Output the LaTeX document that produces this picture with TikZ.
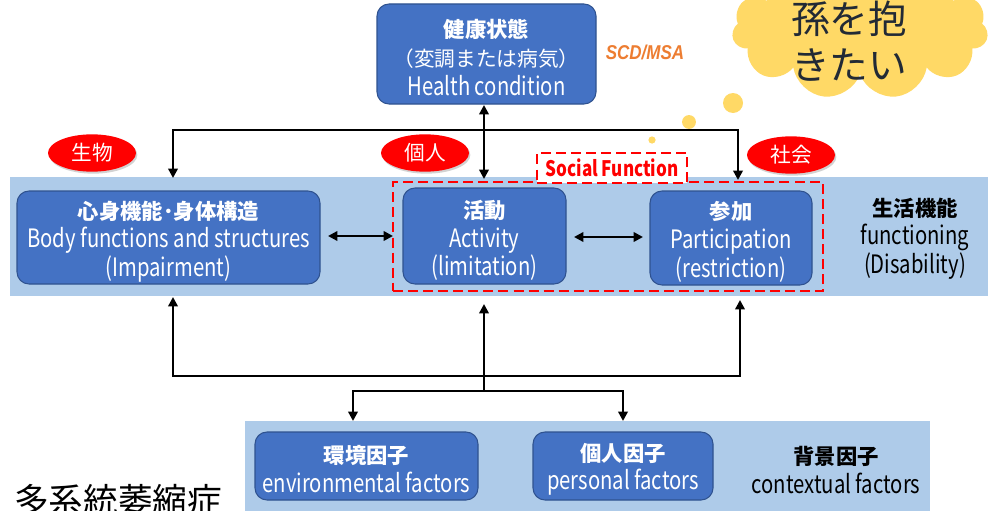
\documentclass[tikz,border=0pt]{standalone}
\usepackage{fontspec}
\setmainfont{Noto Sans CJK JP}
\newfontfamily\jp{Noto Sans CJK JP}
\newfontfamily\jpn[FakeStretch=0.8]{Noto Sans CJK JP}
\newfontfamily\lsans[FakeStretch=0.85]{Liberation Sans}
\usetikzlibrary{arrows.meta,shapes.symbols,shapes.geometric,shadows}
\definecolor{boxblue}{RGB}{68,114,196}
\definecolor{boxedge}{RGB}{47,82,143}
\definecolor{bandblue}{RGB}{174,203,233}
\definecolor{cloudy}{RGB}{255,217,102}
\definecolor{cloudtext}{RGB}{34,42,53}
\definecolor{scdorange}{RGB}{237,125,49}
\newcommand{\jl}[1]{{\jp\bfseries\fontsize{16}{21.5}\selectfont #1}}
\newcommand{\el}[1]{{\jpn\fontsize{19}{21.5}\selectfont #1}}
\begin{document}
\begin{tikzpicture}[x=0.75pt,y=-0.75pt,
  bluebox/.style={draw=boxedge, line width=0.8pt, fill=boxblue, rounded corners=9pt, inner sep=0pt},
  boxtext/.style={text=white, align=center, inner sep=0pt, font=\fontsize{15}{21.5}\selectfont},
  plainlab/.style={text=black, align=center, inner sep=0pt, font=\fontsize{15}{21.5}\selectfont},
  redoval/.style={ellipse, fill=red, text=white, minimum width=66pt, minimum height=28pt,
    inner sep=0pt, font=\jp\fontsize{15.5}{18}\selectfont,
    drop shadow={opacity=0.35, shadow xshift=1pt, shadow yshift=-1.5pt}},
  conn/.style={line width=1.9pt},
  arr/.style={conn, -{Triangle[length=7pt,width=7pt]}},
  dbl/.style={conn, {Triangle[length=7pt,width=7pt]}-{Triangle[length=7pt,width=7pt]}},
  reddash/.style={draw=red, line width=2.2pt, dash pattern=on 7.5pt off 3.8pt},
  bubble/.style={fill=cloudy}
]
\useasboundingbox (0,0) rectangle (995,510);
\fill[white] (0,0) rectangle (995,510);
\clip (0,0) rectangle (995,510);

% thought cloud
\fill[bubble] (733,103) circle[radius=7.5pt];
\fill[bubble] (689,122) circle[radius=5.2pt];
\fill[bubble] (652,140) circle[radius=2.7pt];
\node[cloud, cloud puffs=11, cloud ignores aspect, fill=cloudy, minimum width=192pt,
  minimum height=104pt, inner sep=0pt] (cloud) at (860,30) {};
\node[text=cloudtext, align=left, inner sep=0pt, font=\jp\fontsize{29}{34.5}\selectfont]
  (wish) at (849,41) {孫を抱\\きたい};

% bands
\fill[bandblue] (10,177) rectangle (988,296);
\fill[bandblue] (245,421) rectangle (930,515);

% health condition
\node[bluebox, minimum width=164.25pt, minimum height=75pt] (health) at (486.5,54) {};
\node[boxtext] (healthT) at ([yshift=-2.5pt]health.center)
  {\jl{健康状態}\\{\jp\fontsize{15.5}{21.5}\selectfont （変調または病気）}\\\el{Health condition}};
\node[text=scdorange, inner sep=0pt, font=\lsans\bfseries\itshape\fontsize{15}{16}\selectfont]
  (scd) at (645,52) {SCD/MSA};

% functioning boxes
\node[bluebox, minimum width=227.25pt, minimum height=69.75pt] (body) at (168.5,237.5) {};
\node[boxtext] (bodyT) at ([yshift=-3pt]body.center)
  {\jl{心身機能･身体構造}\\\el{Body functions and structures}\\\el{(Impairment)}};
\node[bluebox, minimum width=122.25pt, minimum height=72pt] (act) at (484.5,236) {};
\node[boxtext] (actT) at ([yshift=-3.3pt]act.center)
  {\jl{活動}\\\el{Activity}\\\el{(limitation)}};
\node[bluebox, minimum width=121.5pt, minimum height=70.5pt] (part) at (731,238) {};
\node[boxtext] (partT) at ([yshift=-3pt]part.center)
  {\jl{参加}\\\el{Participation}\\\el{(restriction)}};
\node[plainlab] (func) at (915,238.5)
  {\jl{生活機能}\\\el{functioning}\\\el{(Disability)}};

% social function frame
\node[reddash, minimum width=322.5pt, minimum height=81.75pt, inner sep=0pt] (sframe) at (608,236.5) {};
\node[reddash, fill=white, minimum width=112.5pt, minimum height=22.5pt, inner sep=0pt,
  text=red, font=\jpn\bfseries\fontsize{16}{17}\selectfont] (social) at (612,168) {Social Function};

% red ovals
\node[redoval] (bio) at (92,153) {生物};
\node[redoval] (indiv) at (425,153) {個人};
\node[redoval] (soc) at (791,155) {社会};

% contextual factors
\node[bluebox, minimum width=167.25pt, minimum height=51pt] (env) at (366.5,466) {};
\node[boxtext] (envT) at ([yshift=-2.5pt]env.center)
  {\jl{環境因子}\\\el{environmental factors}};
\node[bluebox, minimum width=135pt, minimum height=51pt] (pers) at (623,466) {};
\node[boxtext] (persT) at ([yshift=-2.5pt]pers.center)
  {\jl{個人因子}\\\el{personal factors}};
\node[plainlab] (ctx) at (836,470)
  {\jl{背景因子}\\\el{contextual factors}};

% bottom-left caption
\node[anchor=base west, inner sep=0pt, text=black, font=\jp\fontsize{26}{30}\selectfont]
  (msa) at (14,513) {多系統萎縮症};

% connector coordinates
\coordinate (tl) at (173,130);
\coordinate (tr) at (738,130);
\coordinate (bodyTop) at (173,178);
\coordinate (partTop) at (738,180);
\coordinate (hs) at (484,105);
\coordinate (actTop) at (484,179);
\coordinate (bodyR) at (328,236);
\coordinate (frameL) at (393,236);
\coordinate (actR) at (574,237);
\coordinate (partL) at (643,237);
\coordinate (bl) at (173,376);
\coordinate (br) at (740,376);
\coordinate (bodyBot) at (173,297);
\coordinate (partBot) at (740,300);
\coordinate (jn) at (484,391);
\coordinate (actBot) at (484,304);
\coordinate (jl) at (353,391);
\coordinate (jr) at (623,391);
\coordinate (envTop) at (353,421);
\coordinate (persTop) at (623,421);

% top connectors
\draw[dbl] (bodyTop) -- (tl) -- (tr) -- (partTop);
\draw[dbl] (hs) -- (actTop);
% horizontal double arrows
\draw[dbl] (bodyR) -- (frameL);
\draw[dbl] (actR) -- (partL);
% bottom connectors
\draw[dbl] (bodyBot) -- (bl) -- (br) -- (partBot);
\draw[arr] (jn) -- (actBot);
\draw[dbl] (envTop) -- (jl) -- (jr) -- (persTop);
\end{tikzpicture}
\end{document}
